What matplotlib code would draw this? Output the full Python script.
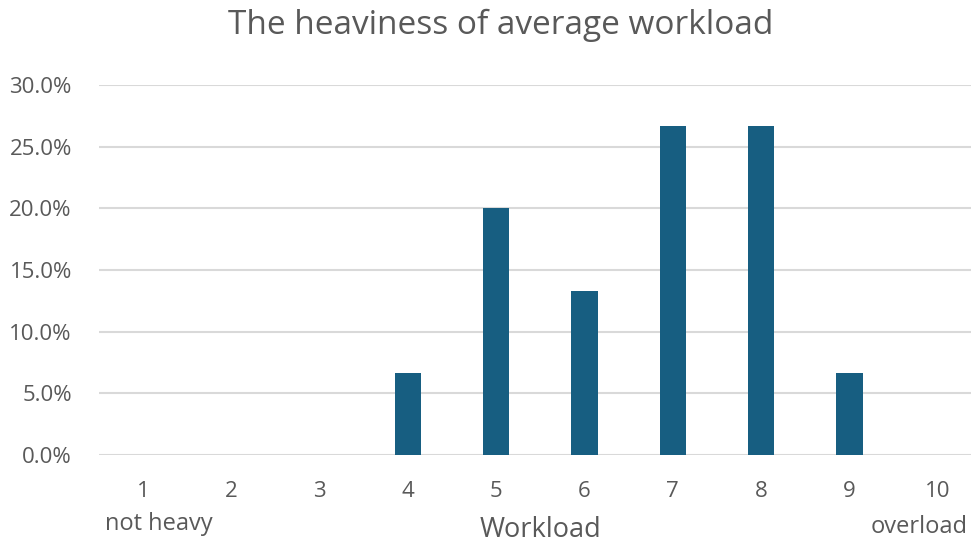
import matplotlib.pyplot as plt
from matplotlib.ticker import PercentFormatter, MultipleLocator

plt.rcParams['font.family'] = ['Open Sans', 'DejaVu Sans']

workload = ['1', '2', '3', '4', '5', '6', '7', '8', '9', '10']
share = [0.0, 0.0, 0.0, 6.67, 20.0, 13.33, 26.67, 26.67, 6.67, 0.0]

grey = '#595959'
bar_color = '#175E81'

fig = plt.figure(figsize=(9.71, 5.47), dpi=100)
ax = fig.add_axes([98.9 / 971, 92 / 547, 883 / 971, 370 / 547])

ax.bar(range(len(workload)), share, width=0.30, color=bar_color, zorder=3)
ax.set_xlim(-0.5, len(workload) - 0.5)
ax.set_ylim(0, 30)
ax.yaxis.set_major_locator(MultipleLocator(5))
ax.yaxis.set_major_formatter(PercentFormatter(decimals=1))
ax.set_xticks(range(len(workload)))
ax.set_xticklabels(workload)

ax.grid(axis='y', color='#D9D9D9', linewidth=1.5, zorder=0)
for s in ax.spines.values():
    s.set_visible(False)
ax.tick_params(axis='both', length=0, colors=grey, labelsize=16)
ax.tick_params(axis='y', pad=19.5)
ax.tick_params(axis='x', pad=18.5)

fig.text(501 / 971, 1 - 25 / 547, 'The heaviness of average workload',
         ha='center', va='center', fontsize=24, color=grey)
fig.text(540 / 971, 1 - 530 / 547, 'Workload', ha='center', va='center',
         fontsize=19.5, color=grey)
fig.text(159 / 971, 1 - 524 / 547, 'not heavy', ha='center', va='center',
         fontsize=17, color=grey)
fig.text(919 / 971, 1 - 527 / 547, 'overload', ha='center', va='center',
         fontsize=17, color=grey)

fig.savefig('out.png', dpi=100)
